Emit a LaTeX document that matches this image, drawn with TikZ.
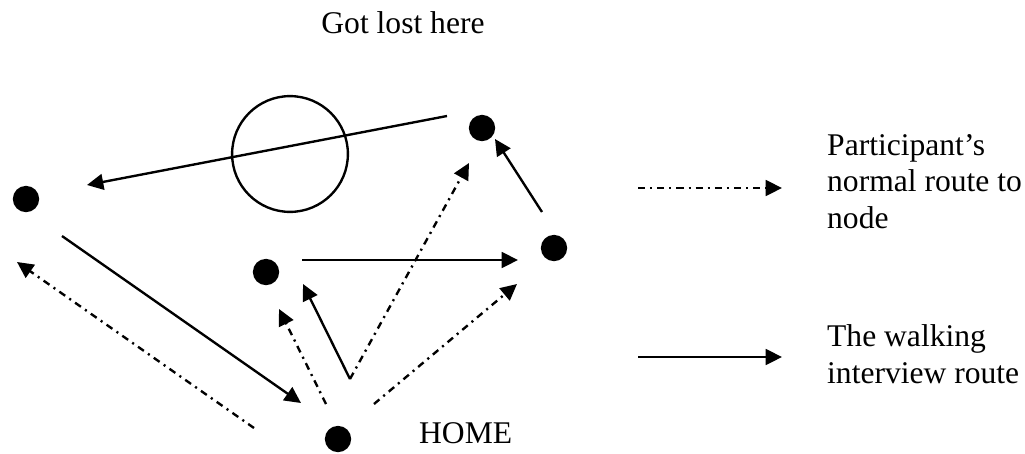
\documentclass[tikz,border=0pt]{standalone}
\usepackage{fontspec}
\setmainfont{Liberation Serif}
\usetikzlibrary{arrows.meta}
\tikzset{dot/.style={circle,fill,inner sep=0pt,minimum size=10pt},
  usual/.style={dash pattern=on 2.7pt off 1.9pt on 0.8pt off 1.9pt},
  txt/.style={inner sep=0pt,align=left,font=\fontsize{12}{13.7}\selectfont}}

\begin{document}
\begin{tikzpicture}[x=0.38pt,y=-0.38pt,>={Triangle[length=6.2pt,width=6pt]},line width=0.9pt]
    \useasboundingbox (0,0) rectangle (1025,453);

    % places
    \node[dot] (west) at (26,199) {};
    \node[dot] (mid) at (266,272) {};
    \node[dot] (north) at (482,128) {};
    \node[dot] (east) at (554,248) {};
    \node[dot] (home) at (338,439) {};
    \node[draw,circle,inner sep=0pt,minimum size=44pt] (lost) at (290,154) {};

    \node[txt,anchor=base] (lostlbl) at (403,33) {Got lost here};
    \node[txt,anchor=base west] (homelbl) at (418,443) {HOME};

    % line ends
    \coordinate (n1) at (447,116);  \coordinate (w1) at (87,185);
    \coordinate (w2) at (62,236);   \coordinate (h1) at (301,403);
    \coordinate (turn) at (350,379); \coordinate (m1) at (303,284);
    \coordinate (m2) at (302,260);  \coordinate (e1) at (518,260);
    \coordinate (e2) at (542,212);  \coordinate (n2) at (495,139);
    \coordinate (h2) at (254,428);  \coordinate (w3) at (17,262);
    \coordinate (h3) at (326,404);  \coordinate (m3) at (279,309);
    \coordinate (n3) at (469,163);
    \coordinate (h4) at (374,404);  \coordinate (e3) at (517,284);

    % walking interview route
    \draw [->] (n1) to (w1);
    \draw [->] (w2) to (h1);
    \draw [->] (turn) to (m1);
    \draw [->] (m2) to (e1);
    \draw [->] (e2) to (n2);

    % normal routes
    \draw [->,usual] (h2) to (w3);
    \draw [->,usual] (h3) to (m3);
    \draw [->,usual] (turn) to (n3);
    \draw [->,usual] (h4) to (e3);

    % key
    \coordinate (k1) at (638,188); \coordinate (k2) at (782,188);
    \coordinate (k3) at (638,357); \coordinate (k4) at (782,357);
    \draw [->,usual] (k1) to (k2);
    \draw [->] (k3) to (k4);
    \node[txt,anchor=base west] (key1) at (826,228) {Participant’s\\normal route to\\node};
    \node[txt,anchor=base west] (key2) at (826,383) {The walking\\interview route};
\end{tikzpicture}
\end{document}
